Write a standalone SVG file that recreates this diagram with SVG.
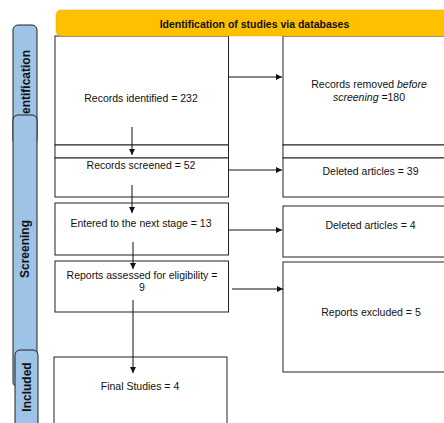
<svg xmlns="http://www.w3.org/2000/svg" width="444" height="423" viewBox="0 0 444 423">
<defs>
<style>
.box{fill:#fff;stroke:#222;stroke-width:1}
.bar{fill:#9DC3E6;stroke:#222;stroke-width:1}
.t{font-family:"Liberation Sans",Arial,sans-serif;font-size:10.5px;fill:#111;text-anchor:middle}
.bt{font-family:"Liberation Sans",Arial,sans-serif;font-size:12px;font-weight:bold;fill:#111}
.hd{font-family:"Liberation Sans",Arial,sans-serif;font-size:10.5px;font-weight:bold;fill:#111;text-anchor:middle}
.c{stroke:#111;stroke-width:1;fill:none;marker-end:url(#ah)}
</style>
<marker id="ah" viewBox="0 0 10 10" refX="10" refY="5" markerWidth="6" markerHeight="6" markerUnits="userSpaceOnUse" orient="auto">
<path d="M0,0 L10,5 L0,10 Z" fill="#111"/>
</marker>
</defs>
<rect width="444" height="423" fill="#fff"/>

<g id="bar-identification">
<rect class="bar" x="13" y="25" width="24" height="120" rx="5"/>
<text class="bt" transform="translate(30,114) rotate(-90)">entification</text>
</g>
<g id="bar-screening">
<rect class="bar" x="13" y="115" width="24" height="272" rx="5"/>
<text class="bt" transform="translate(28.5,249) rotate(-90)" text-anchor="middle">Screening</text>
</g>
<g id="bar-included">
<rect class="bar" x="15" y="350" width="23" height="90" rx="5"/>
<text class="bt" transform="translate(31,387) rotate(-90)" text-anchor="middle">Included</text>
</g>

<g id="n-identified">
<rect class="box" x="55" y="36" width="173.5" height="109"/>
<text class="t" x="141" y="101.5">Records identified = 232</text>
</g>
<g id="n-strip-left">
<rect class="box" x="55" y="145" width="173.5" height="13"/>
</g>
<g id="n-screened">
<rect class="box" x="55" y="158" width="173.5" height="39"/>
<text class="t" x="141" y="169">Records screened = 52</text>
</g>
<g id="n-next">
<rect class="box" x="55" y="203" width="173.5" height="52"/>
<text class="t" x="141" y="226.5">Entered to the next stage = 13</text>
</g>
<g id="n-assessed">
<rect class="box" x="55" y="261" width="173.5" height="51"/>
<text class="t" x="142" y="278.5">Reports assessed for eligibility =</text>
<text class="t" x="142" y="290.5">9</text>
</g>
<g id="n-final">
<rect class="box" x="54" y="357" width="173" height="80"/>
<text class="t" x="140" y="389.5">Final Studies = 4</text>
</g>

<g id="n-removed">
<rect class="box" x="283" y="36" width="174" height="109"/>
<text class="t" x="369" y="87.5">Records removed <tspan font-style="italic">before</tspan></text>
<text class="t" x="369" y="100.5"><tspan font-style="italic">screening</tspan> =180</text>
</g>
<g id="n-strip-right">
<rect class="box" x="283" y="145" width="174" height="13"/>
</g>
<g id="n-deleted39">
<rect class="box" x="283" y="158" width="174" height="39"/>
<text class="t" x="370.5" y="175">Deleted articles = 39</text>
</g>
<g id="n-deleted4">
<rect class="box" x="283" y="206" width="174" height="51"/>
<text class="t" x="370.5" y="228.5">Deleted articles = 4</text>
</g>
<g id="n-excluded">
<rect class="box" x="283" y="262" width="174" height="110"/>
<text class="t" x="371" y="315.5">Reports excluded = 5</text>
</g>

<g id="header">
<rect x="56" y="10" width="400" height="26" rx="5" fill="#FFC000" stroke="#E6AC00" stroke-width="0.5"/>
<text class="hd" x="254.5" y="27.5">Identification of studies via databases</text>
</g>

<g id="connectors">
<line class="c" x1="132" y1="127" x2="132" y2="155"/>
<line class="c" x1="132" y1="185" x2="132" y2="213"/>
<line class="c" x1="133" y1="242" x2="133" y2="269"/>
<line class="c" x1="133" y1="300" x2="133" y2="373"/>
<line class="c" x1="229" y1="77" x2="282" y2="77"/>
<line class="c" x1="229" y1="170" x2="282" y2="170"/>
<line class="c" x1="229" y1="230" x2="282" y2="230"/>
<line class="c" x1="232" y1="289" x2="283" y2="289"/>
</g>
</svg>
